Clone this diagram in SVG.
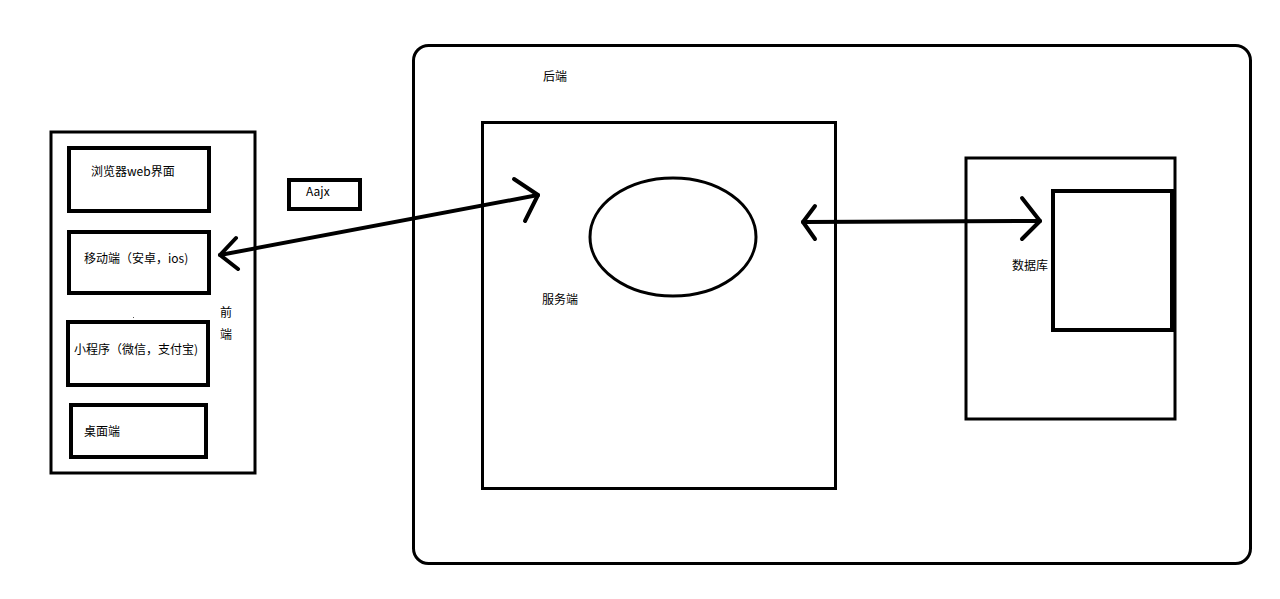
<svg xmlns="http://www.w3.org/2000/svg" width="1280" height="599" viewBox="0 0 1280 599">
<style>
.box{fill:none;stroke:#000;stroke-width:3}
.thick{fill:none;stroke:#000;stroke-width:4}
.t{font-family:"Noto Sans CJK SC","Liberation Sans",sans-serif;font-size:12px;fill:#000}
.c{fill:none;stroke:#000;stroke-width:4;stroke-linecap:round;stroke-linejoin:round}
</style>
<rect width="1280" height="599" fill="#fff"/>
<g id="frontend">
<rect class="box" x="51" y="132" width="204" height="341"/>
<text class="t" x="220" y="317">前</text>
<text class="t" x="220" y="339">端</text>
</g>
<g id="browser">
<rect class="thick" x="69" y="148" width="140" height="63"/>
<text class="t" x="91" y="176">浏览器web界面</text>
</g>
<g id="mobile">
<rect class="thick" x="69" y="232" width="140" height="61"/>
<text class="t" x="84" y="263">移动端（安卓，ios)</text>
</g>
<rect x="133" y="317" width="1" height="1" fill="#555"/>
<g id="miniprogram">
<rect class="thick" x="68" y="322" width="140" height="63"/>
<text class="t" x="74" y="354">小程序（微信，支付宝)</text>
</g>
<g id="desktop">
<rect class="thick" x="71" y="405" width="135" height="52"/>
<text class="t" x="84" y="436">桌面端</text>
</g>
<g id="ajax">
<rect class="thick" x="289" y="180" width="71" height="29"/>
<text class="t" x="306" y="196">Aajx</text>
</g>
<g id="backend">
<rect class="box" x="413.500" y="45.500" width="837" height="518" rx="15"/>
<text class="t" x="543" y="81">后端</text>
</g>
<g id="server">
<rect class="box" x="482.500" y="122.500" width="353" height="366"/>
<ellipse class="box" cx="673" cy="237" rx="83" ry="59"/>
<text class="t" x="542" y="304">服务端</text>
</g>
<g id="database">
<rect class="box" x="966" y="158" width="209" height="261"/>
<rect class="thick" x="1053" y="191" width="119" height="139"/>
<text class="t" x="1012" y="270">数据库</text>
</g>
<g id="connectors">
<path class="c" d="M220 255 L538 195"/>
<path class="c" d="M236 238 L220 255 L238 269"/>
<path class="c" d="M514 179 L538 195 L525 221"/>
<path class="c" d="M803 222 L1040 221"/>
<path class="c" d="M815 206 L803 222 L815 239"/>
<path class="c" d="M1022 198 L1040 221 L1022 239"/>
</g>
</svg>
